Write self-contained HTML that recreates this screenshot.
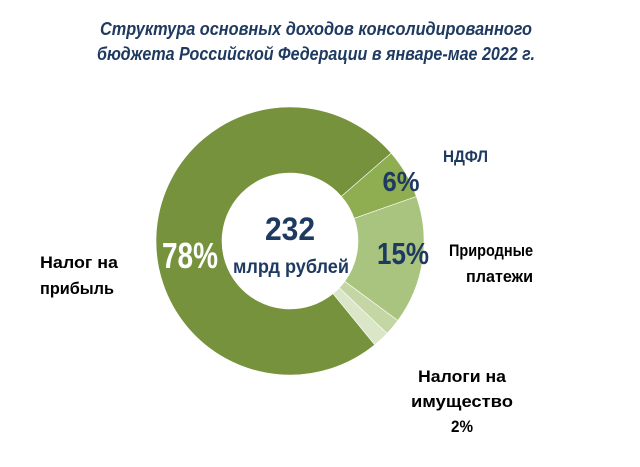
<!DOCTYPE html>
<html><head><meta charset="utf-8"><style>
html,body{margin:0;padding:0;background:#fff;width:640px;height:467px;overflow:hidden}
svg text{font-family:"Liberation Sans Narrow","Liberation Sans",sans-serif;font-weight:bold}
</style></head><body>
<svg id="chart" width="640" height="467" viewBox="0 0 640 467">
<text x="316" y="35" text-anchor="middle" font-size="18" font-style="italic" fill="#1f3a60" textLength="432" lengthAdjust="spacingAndGlyphs">Структура основных доходов консолидированного</text>
<text x="316" y="60" text-anchor="middle" font-size="18" font-style="italic" fill="#1f3a60" textLength="438" lengthAdjust="spacingAndGlyphs">бюджета Российской Федерации в январе-мае  2022 г.</text>
<g id="slices"></g>
<text x="290" y="240" text-anchor="middle" font-size="32" fill="#1f3a60" textLength="50" lengthAdjust="spacingAndGlyphs">232</text>
<text x="291" y="273" text-anchor="middle" font-size="19" fill="#1f3a60" textLength="116" lengthAdjust="spacingAndGlyphs">млрд рублей</text>
<text x="190" y="268" text-anchor="middle" font-size="36" fill="#ffffff" textLength="56" lengthAdjust="spacingAndGlyphs">78%</text>
<text x="401" y="191" text-anchor="middle" font-size="28" fill="#1f3a60" textLength="37" lengthAdjust="spacingAndGlyphs">6%</text>
<text x="403" y="264" text-anchor="middle" font-size="31" fill="#1f3a60" textLength="52" lengthAdjust="spacingAndGlyphs">15%</text>
<text x="443" y="162" font-size="17" fill="#1f3a60" textLength="45" lengthAdjust="spacingAndGlyphs">НДФЛ</text>
<text x="533" y="256" text-anchor="end" font-size="17" fill="#000" textLength="84" lengthAdjust="spacingAndGlyphs">Природные</text>
<text x="533" y="282" text-anchor="end" font-size="17" fill="#000" textLength="67" lengthAdjust="spacingAndGlyphs">платежи</text>
<text x="40" y="268" font-size="17" fill="#000" textLength="78" lengthAdjust="spacingAndGlyphs">Налог на</text>
<text x="40" y="294" font-size="17" fill="#000" textLength="74" lengthAdjust="spacingAndGlyphs">прибыль</text>
<text x="462" y="382" text-anchor="middle" font-size="17" fill="#000" textLength="88" lengthAdjust="spacingAndGlyphs">Налоги на</text>
<text x="462" y="407" text-anchor="middle" font-size="17" fill="#000" textLength="102" lengthAdjust="spacingAndGlyphs">имущество</text>
<text x="462" y="432" text-anchor="middle" font-size="17" fill="#000" textLength="22" lengthAdjust="spacingAndGlyphs">2%</text>
</svg>
<script>
const categories=["НДФЛ","Природные платежи","Налоги на имущество A","Налоги на имущество B","Налог на прибыль"];
const values=[6,15.5,2,2,74.5];
const colors=["#8fae52","#a9c47f","#c3d6a3","#dbe6c8","#76923c"];
const cx=290,cy=241,R=134,r=68,start=49;
const g=document.getElementById('slices');
const total=values.reduce((a,b)=>a+b,0);
function pt(a,rad){const t=(a-90)*Math.PI/180;return [cx+rad*Math.cos(t),cy+rad*Math.sin(t)];}
let a=start;
values.forEach((v,i)=>{
  const a2=a+v/total*360;
  const large=(a2-a)>180?1:0;
  const p1=pt(a,R),p2=pt(a2,R),p3=pt(a2,r),p4=pt(a,r);
  const p=document.createElementNS('http://www.w3.org/2000/svg','path');
  p.setAttribute('d',`M${p1[0]},${p1[1]}A${R},${R} 0 ${large} 1 ${p2[0]},${p2[1]}L${p3[0]},${p3[1]}A${r},${r} 0 ${large} 0 ${p4[0]},${p4[1]}Z`);
  p.setAttribute('fill',colors[i]);
  p.setAttribute('stroke','#ffffff');
  p.setAttribute('stroke-width','0.6');
  
  
  g.appendChild(p);
  a=a2;
});
</script>
</body></html>
